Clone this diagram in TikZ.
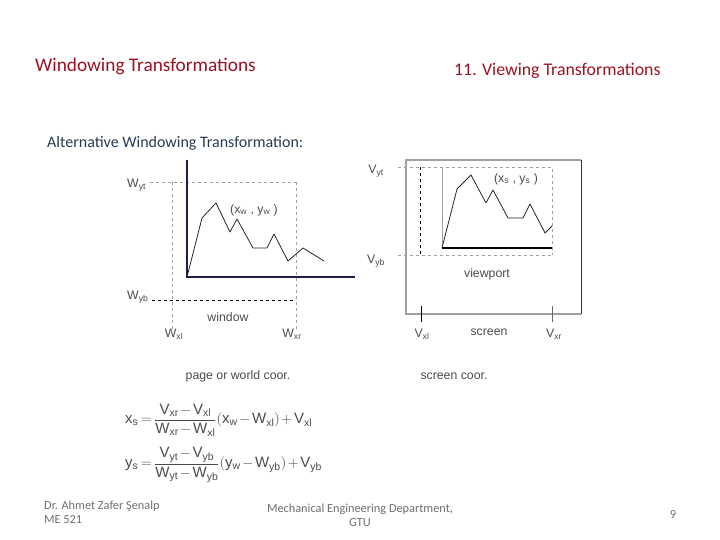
\documentclass[tikz,border=0pt]{standalone}
\usepackage{fontspec}
\setmainfont{Carlito}
\newfontfamily\arialfont{Liberation Sans}
\setmathsf{Liberation Sans}
\usetikzlibrary{positioning}

\definecolor{titlered}{RGB}{158,18,34}
\definecolor{subblue}{RGB}{40,58,80}
\definecolor{labelgrey}{RGB}{75,75,75}
\definecolor{guidegrey}{RGB}{160,160,160}
\definecolor{axisnavy}{RGB}{30,30,75}
\definecolor{footgrey}{RGB}{110,110,110}

\tikzset{
  lbl/.style={font=\arialfont\fontsize{12.3}{14}\selectfont, text=labelgrey, inner sep=1pt},
  guide/.style={dashed, draw=guidegrey, line width=0.8pt},
  guidedark/.style={dashed, draw=black, line width=0.9pt},
  axis/.style={draw=axisnavy, line width=1.3pt},
  curve/.style={draw=black!85, line width=0.8pt, line join=round},
  formula/.style={lbl, anchor=west, font=\arialfont\fontsize{15}{17}\selectfont},
  foot/.style={font=\fontsize{12.3}{14}\selectfont, text=footgrey}
}

\begin{document}
\begin{tikzpicture}[x=1pt, y=-1pt]
    \useasboundingbox (0,0) rectangle (720,540);

    % headings
    \node[anchor=west, inner sep=0, text=titlered, font=\fontsize{19.3}{22}\selectfont] (title) at (35,66) {Windowing Transformations};
    \node[anchor=west, inner sep=0, text=titlered, font=\fontsize{17.8}{20}\selectfont] (chapter) at (454,71) {11. Viewing Transformations};
    \node[anchor=west, inner sep=0, text=subblue, font=\fontsize{16}{18}\selectfont] (alt) at (47,143) {Alternative Windowing Transformation:};

    % world side
    \draw[guide] (150,182) -- (296,182);
    \draw[guide] (172,182) -- (172,330);
    \draw[guide] (296,182) -- (296,330);
    \draw[guidedark] (152,300) -- (296,300);
    \draw[axis] (187,160) -- (187,277) -- (355,277);
    \draw[curve] (187,277) -- (202,218) -- (216,203) -- (230,232) -- (237,219) -- (253,248)
        -- (267,248) -- (274,234) -- (288,261) -- (303,248) -- (324,261);
    \node[lbl, anchor=west] (wyt) at (126,185) {W\textsubscript{yt}};
    \node[lbl, anchor=west] (wyb) at (126,297) {W\textsubscript{yb}};
    \node[lbl] (wxl) at (174,334) {W\textsubscript{xl}};
    \node[lbl] (wxr) at (292,334) {W\textsubscript{xr}};
    \node[lbl] (window) at (228,317) {window};
    \node[lbl] (pw) at (254,210) {(x\textsubscript{w} , y\textsubscript{w} )};
    \node[lbl] (page) at (238,376) {page or world coor.};

    % screen side
    \draw[draw=guidegrey, line width=2pt] (581,160) -- (406,160) -- (406,314) -- (581,314);
    \draw[draw=black!80, line width=1pt] (581,160) -- (581,314);
    \draw[guide] (398,167) -- (552,167) -- (552,255);
    \draw[guide] (398,255) -- (552,255);
    \draw[guidedark] (420,167) -- (420,255);
    \draw[draw=guidegrey, line width=0.6pt] (442,167) -- (442,248);
    \draw[draw=black, line width=1.3pt] (442,248) -- (552,248);
    \draw[curve] (442,248) -- (457,189) -- (471,175) -- (486,203) -- (493,190) -- (508,218)
        -- (523,218) -- (530,204) -- (545,233) -- (552,226);
    \draw[draw=black, line width=0.8pt] (421,306) -- (421,322);
    \draw[draw=black!60, line width=0.8pt] (552,306) -- (552,322);
    \node[lbl] (vyt) at (376,171) {V\textsubscript{yt}};
    \node[lbl] (vyb) at (376,261) {V\textsubscript{yb}};
    \node[lbl] (ps) at (516,179) {(x\textsubscript{s} , y\textsubscript{s} )};
    \node[lbl] (viewport) at (487,274) {viewport};
    \node[lbl] (vxl) at (422,334) {V\textsubscript{xl}};
    \node[lbl] (screen) at (489,332) {screen};
    \node[lbl] (vxr) at (554,334) {V\textsubscript{xr}};
    \node[lbl] (sc) at (454,376) {screen coor.};

    % formulas
    \node[formula] (fx) at (124,420)
        {\thickmuskip=3mu \medmuskip=2mu $\displaystyle\mathsf{x_s = \frac{V_{xr} - V_{xl}}{W_{xr} - W_{xl}}(x_w - W_{xl}) + V_{xl}}$};
    \node[formula] (fy) at (124,465)
        {\thickmuskip=3mu \medmuskip=2mu $\displaystyle\mathsf{y_s = \frac{V_{yt} - V_{yb}}{W_{yt} - W_{yb}}(y_w - W_{yb}) + V_{yb}}$};

    % footer
    \node[foot, anchor=north west, align=left, inner sep=0] (author) at (44,501) {Dr. Ahmet Zafer Şenalp\\ME 521};
    \node[foot, align=center, inner sep=0] (dept) at (360,515) {Mechanical Engineering Department,\\GTU};
    \node[foot, inner sep=0] (page9) at (673,515) {9};
\end{tikzpicture}
\end{document}
